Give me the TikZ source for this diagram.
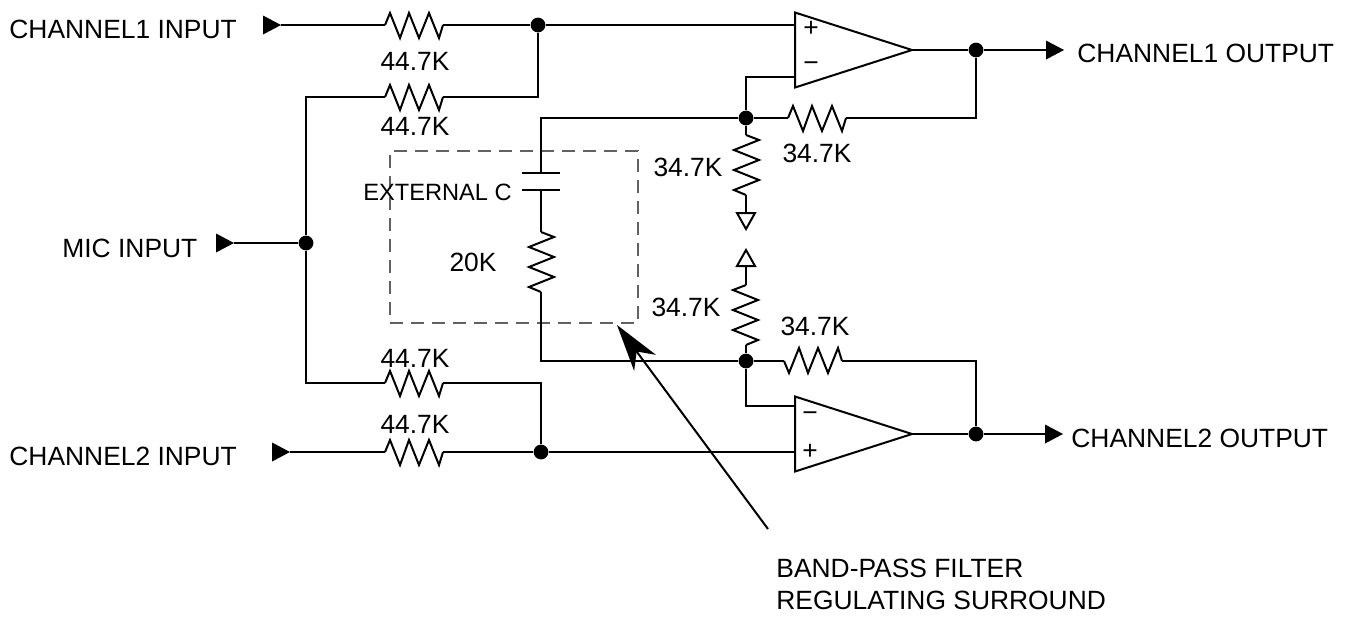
\documentclass[tikz,border=0pt]{standalone}
\usepackage{fontspec}
\setmainfont{Liberation Sans}
\usetikzlibrary{arrows.meta}
\usetikzlibrary{shapes}
\tikzset{
        wire/.style={line width=1pt},
        % Labels
        label_text/.style={inner sep=0pt, font=\fontsize{13.2}{15}\selectfont},
        label_small/.style={inner sep=0pt, font=\fontsize{11.8}{14}\selectfont},
        % Junction dots
        node_junction/.style={circle, fill=black, inner sep=0pt, minimum size=7.4pt},
        % Input and output marks
        node_port/.style={isosceles triangle, isosceles triangle stretches, fill=black, inner sep=0pt, outer sep=0pt, minimum height=9pt, minimum width=9.5pt, anchor=apex},
        % Open triangles at the resistor ends
        node_return/.style={isosceles triangle, isosceles triangle stretches, draw=black, line width=1pt, fill=white, inner sep=0pt, outer sep=0pt, minimum height=8pt, minimum width=9pt, anchor=apex},
        % Amplifiers
        node_amp/.style={isosceles triangle, isosceles triangle stretches, draw=black, line width=1pt, inner sep=0pt, outer sep=0pt, minimum height=58.5pt, minimum width=37.5pt, anchor=apex},
        % Dashed surround
        node_surround/.style={rectangle, draw=black!62, line width=0.7pt, dash pattern=on 6.5pt off 4pt, inner sep=0pt, minimum width=124pt, minimum height=86pt},
        % Resistors
        res_h/.pic={
            \coordinate (-in) at (0,0);
            \coordinate (-out) at (58,0);
            \draw[wire] (-in) -- (5,-12) -- (15,13) -- (24,-12) -- (34,13) -- (44,-12) -- (54,13) -- (-out);
        },
        res_v/.pic={
            \coordinate (-in) at (0,0);
            \coordinate (-out) at (0,60);
            \draw[wire] (-in) -- (13,5) -- (-12,15) -- (13,25) -- (-12,35) -- (13,45) -- (-12,55) -- (-out);
        }
}
\begin{document}
\begin{tikzpicture}[x=0.5pt, y=-0.5pt]
    \useasboundingbox (0,0) rectangle (1353,617);
    % Surround
    \node[node_surround] (surround) at (514,237) {};
    % Amplifiers
    \node[node_amp] (amp_top) at (912,50) {};
    \node[node_amp] (amp_bot) at (912,434) {};
    \node[label_text] at (811,29) {+};
    \node[label_text] at (811,67) {−};
    \node[label_text] at (810,417) {−};
    \node[label_text] at (810,452) {+};
    \coordinate (amp_top_p) at (795,25);
    \coordinate (amp_top_n) at (795,77);
    \coordinate (amp_bot_n) at (795,406);
    \coordinate (amp_bot_p) at (795,452);
    % Ports
    \node[node_port] (in_ch1) at (281,25) {};
    \node[node_port] (in_mic) at (234,243) {};
    \node[node_port] (in_ch2) at (290,452) {};
    \node[node_port] (out_ch1) at (1064,50) {};
    \node[node_port] (out_ch2) at (1063,434) {};
    \node[label_text, anchor=west] at (9,29) {CHANNEL1 INPUT};
    \node[label_text, anchor=west] at (62,248) {MIC INPUT};
    \node[label_text, anchor=west] at (9,456) {CHANNEL2 INPUT};
    \node[label_text, anchor=west] at (1077,53) {CHANNEL1 OUTPUT};
    \node[label_text, anchor=west] at (1071,438) {CHANNEL2 OUTPUT};
    % Junctions
    \node[node_junction] (j_in1) at (538,25) {};
    \node[node_junction] (j_mic) at (306,243) {};
    \node[node_junction] (j_in2) at (541,452) {};
    \node[node_junction] (j_fb1) at (746,118) {};
    \node[node_junction] (j_fb2) at (746,361) {};
    \node[node_junction] (j_out1) at (976,50) {};
    \node[node_junction] (j_out2) at (976,434) {};
    % Resistors
    \pic (r_ch1) at (385,25) {res_h};
    \pic (r_mic1) at (385,97) {res_h};
    \pic (r_mic2) at (385,383) {res_h};
    \pic (r_ch2) at (385,452) {res_h};
    \pic (r_fb1) at (788,118) {res_h};
    \pic[yscale=-1] (r_fb2) at (784,361) {res_h};
    \pic (r_gnd1) at (746,135) {res_v};
    \pic[xscale=-1] (r_gnd2) at (746,285) {res_v};
    \pic (r_filter) at (541,232) {res_v};
    \node[label_text] at (415,61) {44.7K};
    \node[label_text] at (415,126) {44.7K};
    \node[label_text] at (415,358) {44.7K};
    \node[label_text] at (415,424) {44.7K};
    \node[label_text] at (817,153) {34.7K};
    \node[label_text] at (688,167) {34.7K};
    \node[label_text] at (686,307) {34.7K};
    \node[label_text] at (815,326) {34.7K};
    \node[label_text] at (473,262) {20K};
    \node[label_small, anchor=west] at (363,192) {EXTERNAL C};
    % Capacitor
    \coordinate (cap_a) at (541,173);
    \coordinate (cap_b) at (541,190);
    \draw[wire] ([xshift=-9.5pt]cap_a) -- ([xshift=9.5pt]cap_a);
    \draw[wire] ([xshift=-9.5pt]cap_b) -- ([xshift=9.5pt]cap_b);
    % Return marks
    \node[node_return, shape border rotate=270] (gnd_top) at (746,229) {};
    \node[node_return, shape border rotate=90] (gnd_bot) at (746,250) {};
    % Wires
    \draw[wire] (in_ch1.apex) -- (r_ch1-in);
    \draw[wire] (r_ch1-out) -- (j_in1) -- (amp_top_p);
    \draw[wire] (j_in1) |- (r_mic1-out);
    \draw[wire] (in_mic.apex) -- (j_mic);
    \draw[wire] (r_mic1-in) -| (j_mic);
    \draw[wire] (j_mic) |- (r_mic2-in);
    \draw[wire] (r_mic2-out) -| (j_in2);
    \draw[wire] (in_ch2.apex) -- (r_ch2-in);
    \draw[wire] (r_ch2-out) -- (j_in2) -- (amp_bot_p);
    \draw[wire] (amp_top.apex) -- (j_out1) -- (out_ch1);
    \draw[wire] (amp_bot.apex) -- (j_out2) -- (out_ch2);
    \draw[wire] (amp_top_n) -| (j_fb1);
    \draw[wire] (amp_bot_n) -| (j_fb2);
    \draw[wire] (j_fb1) -- (r_fb1-in);
    \draw[wire] (r_fb1-out) -| (j_out1);
    \draw[wire] (j_fb2) -- (r_fb2-in);
    \draw[wire] (r_fb2-out) -| (j_out2);
    \draw[wire] (j_fb1) -- (r_gnd1-in);
    \draw[wire] (r_gnd1-out) -- (gnd_top);
    \draw[wire] (gnd_bot) -- (r_gnd2-in);
    \draw[wire] (r_gnd2-out) -- (j_fb2);
    \draw[wire] (j_fb1) -| (cap_a);
    \draw[wire] (cap_b) -- (r_filter-in);
    \draw[wire] (r_filter-out) |- (j_fb2);
    % Pointer
    \coordinate (point_tail) at (768,529);
    \coordinate (point_tip) at (617,325);
    \draw[wire, -{Stealth[length=23.5pt, width=13.5pt, inset=7pt]}] (point_tail) -- (point_tip);
    \node[label_text, anchor=west] at (776,568) {BAND-PASS FILTER};
    \node[label_text, anchor=west] at (776,600) {REGULATING SURROUND};
\end{tikzpicture}
\end{document}
